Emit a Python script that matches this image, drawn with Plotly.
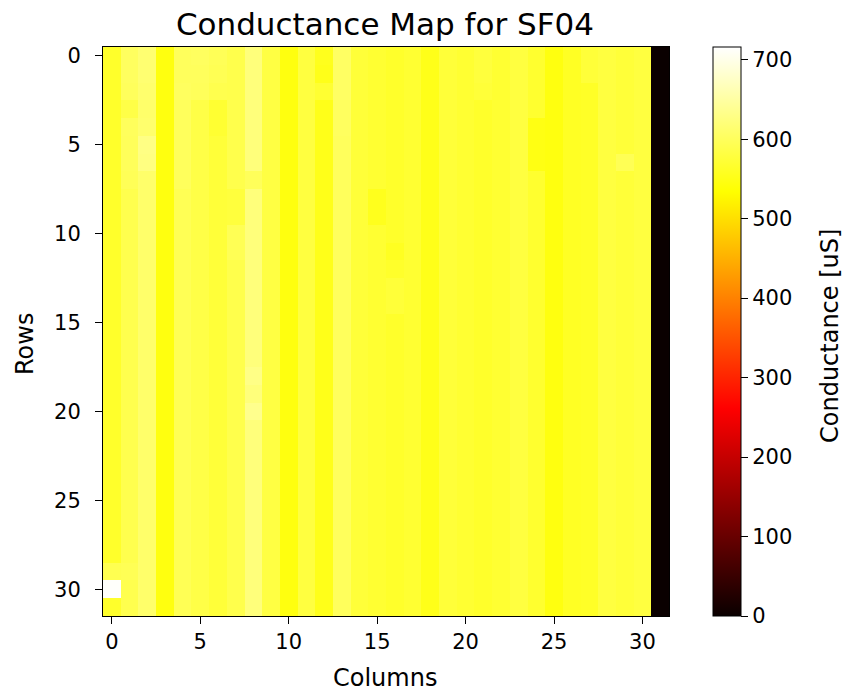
import plotly.graph_objects as go

# Column baseline conductance values [uS] (column 0..31)
col_base = [565, 590, 610, 545, 595, 585, 575, 588, 622, 582,
            545, 580, 552, 600, 575, 570, 565, 570, 552, 575,
            570, 565, 570, 580, 568, 545, 560, 562, 580, 575,
            580, 0]

# Individual cells that differ from their column baseline: (row, col, value)
cell_overrides = [
    (0, 1, 602), (1, 1, 602), (2, 1, 600), (3, 1, 585), (4, 1, 600), (5, 1, 598), (6, 1, 598), (7, 1, 596),
    (0, 2, 615), (1, 2, 615), (2, 2, 612), (3, 2, 610), (4, 2, 612), (5, 2, 628), (6, 2, 626),
    (0, 4, 600), (1, 4, 600), (2, 4, 602), (3, 4, 600), (4, 4, 600), (5, 4, 600), (6, 4, 600), (7, 4, 600),
    (0, 5, 602), (1, 5, 600), (2, 5, 598),
    (0, 6, 596), (1, 6, 594), (2, 6, 590), (3, 6, 570), (4, 6, 570),
    (8, 7, 578), (9, 7, 578), (10, 7, 595), (11, 7, 595),
    (7, 8, 598), (18, 8, 630), (20, 8, 635),
    (0, 12, 555), (2, 12, 570),
    (0, 13, 605), (1, 13, 605), (2, 13, 605), (3, 13, 602), (4, 13, 602), (5, 13, 600), (6, 13, 600), (7, 13, 600),
    (8, 15, 555), (9, 15, 555),
    (0, 21, 578), (1, 21, 578), (2, 21, 575),
    (4, 24, 548), (5, 24, 548), (6, 24, 548),
    (0, 27, 575), (1, 27, 575),
    (6, 29, 595),
    (11, 16, 558), (13, 16, 575), (14, 16, 575),
    (29, 0, 592), (29, 1, 595),
    (30, 0, 713),
]

n_rows = 32
z = [[col_base[c] for c in range(len(col_base))] for _ in range(n_rows)]
for r, c, v in cell_overrides:
    z[r][c] = v

x_ticks = [0, 5, 10, 15, 20, 25, 30]
y_ticks = [0, 5, 10, 15, 20, 25, 30]
cbar_ticks = [0, 100, 200, 300, 400, 500, 600, 700]
vmin, vmax = 0, 716

hot = [
    [0.0, "rgb(10,0,0)"],
    [0.365079, "rgb(255,0,0)"],
    [0.746032, "rgb(255,255,0)"],
    [1.0, "rgb(255,255,255)"],
]

FONT = "DejaVu Sans"
TICK = 21
LABEL = 24

L, R, T, B = 103, 178, 47, 80
W, H = 847, 696
PW, PH = W - L - R, H - T - B


def px_x(px):
    return (px - L) / PW


def px_y(py):
    return (H - B - py) / PH


fig = go.Figure(
    go.Heatmap(
        z=z,
        x=list(range(len(col_base))),
        y=list(range(n_rows)),
        colorscale=hot,
        zmin=vmin,
        zmax=vmax,
        colorbar=dict(
            x=px_x(713), xanchor="left", xref="paper",
            y=0.5, yanchor="middle", len=1.0, lenmode="fraction",
            thickness=28, thicknessmode="pixels",
            outlinecolor="black", outlinewidth=1,
            tickvals=cbar_ticks, ticks="outside", ticklen=7, tickwidth=1,
            tickcolor="black",
            tickfont=dict(family=FONT, size=TICK, color="black"),
            xpad=0, ypad=0,
        ),
    )
)

fig.update_layout(
    width=W, height=H,
    margin=dict(l=L, r=R, t=T, b=B),
    paper_bgcolor="white", plot_bgcolor="white",
    font=dict(family=FONT, color="black"),
    title=dict(text="Conductance Map for SF04", x=385 / W, xanchor="center",
               y=1 - 24 / H, yanchor="middle",
               font=dict(family=FONT, size=31, color="black")),
    xaxis=dict(
        range=[-0.5, 31.5], tickvals=x_ticks, ticks="outside", ticklen=7,
        tickwidth=1, tickcolor="black", showgrid=False, zeroline=False,
        showline=True, linecolor="black", linewidth=1, mirror=True,
        tickfont=dict(family=FONT, size=TICK, color="black"),
    ),
    yaxis=dict(
        range=[31.5, -0.5], tickvals=y_ticks, ticks="outside", ticklen=7,
        tickwidth=1, tickcolor="black", showgrid=False, zeroline=False,
        showline=True, linecolor="black", linewidth=1, mirror=True,
        ticklabelstandoff=10,
        tickfont=dict(family=FONT, size=TICK, color="black"),
    ),
    annotations=[
        dict(text="Conductance [uS]", textangle=-90, xref="paper", yref="paper",
             x=px_x(830), y=px_y(336), xanchor="center", yanchor="middle",
             showarrow=False, font=dict(family=FONT, size=LABEL, color="black")),
        dict(text="Columns", xref="paper", yref="paper",
             x=px_x(385), y=px_y(678), xanchor="center", yanchor="middle",
             showarrow=False, font=dict(family=FONT, size=LABEL, color="black")),
        dict(text="Rows", textangle=-90, xref="paper", yref="paper",
             x=px_x(25), y=px_y(344), xanchor="center", yanchor="middle",
             showarrow=False, font=dict(family=FONT, size=LABEL, color="black")),
    ],
)

fig.write_html("out.html")
